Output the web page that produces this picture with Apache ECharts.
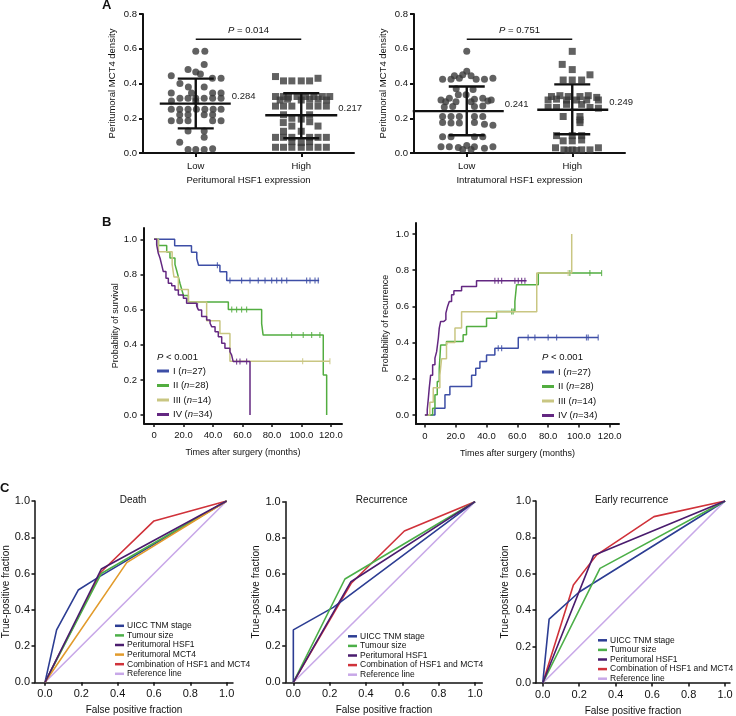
<!DOCTYPE html>
<html><head><meta charset="utf-8">
<script src="https://cdn.jsdelivr.net/npm/echarts@6/dist/echarts.min.js"></script>
<style>html,body{margin:0;padding:0;background:#fff}#c{width:736px;height:716px}</style>
</head><body><div id="c"></div>
<script>
// ---------------- DATA ----------------
// Panel A : categories and dots [jitter position (1=Low, 2=High), density]
const groupLabels = ['Low', 'High'];
const aYTicks = [0, 0.2, 0.4, 0.6, 0.8];
const aLowPeri = [[1.0,0.585],[1.086,0.585],[1.08,0.51],[0.927,0.48],[1.0,0.466],[1.044,0.455],[0.768,0.445],[1.158,0.43],[1.24,0.43],[0.85,0.40],[0.93,0.38],[1.08,0.38],[0.768,0.345],[0.96,0.345],[1.16,0.345],[1.24,0.345],[0.85,0.315],[0.927,0.315],[1.0,0.315],[1.08,0.315],[1.16,0.315],[1.24,0.315],[0.77,0.30],[1.0,0.30],[0.768,0.252],[0.848,0.252],[0.927,0.252],[1.006,0.252],[1.086,0.252],[1.165,0.252],[1.24,0.252],[0.848,0.22],[0.927,0.22],[1.08,0.22],[1.16,0.22],[0.768,0.186],[0.848,0.186],[0.927,0.186],[1.16,0.186],[1.24,0.186],[0.927,0.126],[1.08,0.126],[1.08,0.09],[0.848,0.062],[0.927,0.02],[1.0,0.02],[1.08,0.02],[1.16,0.025]];
const aHighPeri = [[1.756,0.44],[2.159,0.43],[1.832,0.415],[1.911,0.415],[2.0,0.415],[2.079,0.415],[1.756,0.325],[1.83,0.325],[1.88,0.322],[1.96,0.325],[2.04,0.325],[2.12,0.325],[2.2,0.325],[2.27,0.325],[1.80,0.305],[1.87,0.31],[2.0,0.305],[2.08,0.31],[2.16,0.31],[2.24,0.305],[1.756,0.27],[1.832,0.27],[1.911,0.27],[2.079,0.27],[2.159,0.27],[2.238,0.27],[1.832,0.22],[2.079,0.22],[1.911,0.2],[2.0,0.195],[1.83,0.175],[2.08,0.18],[1.911,0.155],[2.159,0.155],[1.832,0.125],[2.0,0.125],[1.756,0.09],[1.832,0.09],[1.911,0.09],[2.079,0.09],[2.159,0.09],[2.238,0.09],[1.911,0.065],[2.0,0.06],[2.079,0.065],[1.756,0.033],[1.832,0.033],[1.911,0.033],[2.0,0.033],[2.079,0.033],[2.159,0.033],[2.238,0.033]];
const aLowIntra = [[1.0,0.585],[1.0,0.47],[0.883,0.445],[0.962,0.45],[1.041,0.445],[0.771,0.425],[0.851,0.425],[0.93,0.43],[1.089,0.425],[1.168,0.425],[1.248,0.43],[0.90,0.37],[1.06,0.365],[0.92,0.335],[0.994,0.335],[0.756,0.305],[0.835,0.315],[1.073,0.31],[1.152,0.315],[1.232,0.305],[0.80,0.295],[0.898,0.295],[1.041,0.295],[1.2,0.30],[0.787,0.265],[0.867,0.267],[1.073,0.267],[1.152,0.27],[0.771,0.21],[0.851,0.21],[0.93,0.21],[1.073,0.21],[1.152,0.21],[0.771,0.175],[0.851,0.172],[0.93,0.172],[1.073,0.175],[1.168,0.165],[1.248,0.16],[0.771,0.094],[0.851,0.094],[1.073,0.094],[1.152,0.094],[0.756,0.036],[0.835,0.036],[0.92,0.032],[1.0,0.043],[1.073,0.036],[1.168,0.027],[1.248,0.036],[0.962,0.02],[1.041,0.02]];
const aHighIntra = [[2.0,0.585],[1.905,0.51],[2.0,0.48],[2.168,0.45],[1.914,0.42],[2.0,0.42],[2.089,0.42],[1.803,0.325],[1.883,0.33],[1.962,0.325],[2.073,0.325],[2.152,0.33],[2.232,0.32],[1.771,0.305],[1.851,0.31],[1.946,0.305],[2.041,0.305],[2.137,0.305],[2.248,0.305],[1.946,0.28],[2.089,0.28],[1.771,0.262],[1.851,0.262],[2.168,0.262],[2.248,0.258],[1.914,0.21],[2.073,0.21],[2.073,0.19],[2.073,0.175],[1.851,0.10],[2.0,0.10],[2.089,0.10],[1.914,0.07],[2.0,0.07],[2.089,0.075],[1.841,0.03],[1.921,0.018],[2.0,0.018],[2.089,0.018],[2.168,0.018],[2.248,0.03],[1.96,0.015],[2.04,0.015]];
// [group, mean, mean-SD, mean+SD]
const aStatsPeri = [[1,0.284,0.142,0.428],[2,0.217,0.085,0.344]];
const aStatsIntra = [[1,0.241,0.102,0.383],[2,0.249,0.108,0.395]];
const aPValues = ['0.014', '0.751'];
const aBracketLevel = 0.655;

// Panel B : Kaplan–Meier steps [months, probability]
const stageNames = ['I', 'II', 'III', 'IV'];
const stageCounts = [27, 28, 14, 34];
const bXTicks = [0, 20, 40, 60, 80, 100, 120];
const bYTicks = [0, 0.2, 0.4, 0.6, 0.8, 1.0];
const survI = [[0,1],[14,0.963],[25.4,0.926],[29,0.889],[30.2,0.852],[44.7,0.815],[49.3,0.765],[112,0.765]];
const survII = [[0,1],[3,0.964],[8.6,0.928],[10.8,0.893],[14.2,0.857],[15.4,0.821],[16.5,0.786],[17.6,0.75],[18.8,0.714],[20,0.68],[23.3,0.643],[50.4,0.60],[73,0.52],[74,0.455],[114.8,0.228],[117.1,0]];
const survIII = [[0,1],[3,0.929],[12.3,0.857],[13.5,0.786],[16.5,0.714],[23.3,0.643],[35.7,0.536],[44.7,0.464],[51.5,0.306],[119.3,0.306]];
const survIV = [[0,1],[1.8,0.968],[2.9,0.92],[4.1,0.892],[5.2,0.854],[6.3,0.816],[8.1,0.778],[9.7,0.75],[12,0.735],[14.2,0.712],[16.5,0.683],[19.9,0.664],[22.1,0.636],[28.9,0.62],[30.1,0.598],[32.3,0.56],[35.7,0.541],[38,0.522],[39.1,0.503],[41.4,0.474],[43.6,0.446],[45.9,0.408],[48.1,0.38],[51.5,0.36],[52.6,0.342],[53.7,0.304],[65.1,0]];
const survCensI = [43, 51.5, 59.4, 65.1, 70.7, 75.3, 79.8, 83.2, 86.6, 90, 103.5, 105.8, 109.2, 111.4];
const survCensII = [52.7, 56, 59.4, 62.8, 93.3, 101.2, 106.9, 112.5];
const survCensIII = [100.8, 119.3];
const survCensIV = [29.5, 56, 58.3, 62.8];
const recI = [[0,0],[6.5,0.037],[13,0.111],[16.2,0.157],[30.3,0.22],[33,0.258],[35.7,0.295],[40,0.332],[45.4,0.369],[60.6,0.428],[112.5,0.428]];
const recII = [[0,0],[5,0.037],[6.5,0.111],[8,0.185],[9.3,0.258],[10.2,0.387],[14,0.406],[24.8,0.443],[27,0.489],[40,0.535],[46.5,0.572],[58.4,0.627],[59.5,0.72],[73.6,0.784],[114.7,0.784]];
const recIII = [[0,0],[3.2,0.07],[5.4,0.15],[9.7,0.22],[10.8,0.31],[14,0.40],[19.5,0.48],[23.8,0.57],[72.6,0.784],[95.3,1.0]];
const recIV = [[0,0],[1.5,0.03],[2.2,0.09],[2.8,0.148],[3.7,0.22],[5,0.277],[6.5,0.314],[7.6,0.35],[8.7,0.424],[9.3,0.48],[10.2,0.517],[12.3,0.526],[13.6,0.563],[14.7,0.6],[15.8,0.627],[17.3,0.664],[18.8,0.686],[23.8,0.71],[33.5,0.742],[66,0.742]];
const recCensI = [47.6, 49.8, 67, 71.4, 80, 85.5, 104.9, 106, 112.5];
const recCensII = [56.3, 57.3, 94.1, 107.1, 114.7];
const recCensIII = [93];
const recCensIV = [45.4, 47.6, 49.8, 58.4, 60.6, 62.8, 64.9];

// Panel C : ROC curves [false positive fraction, true positive fraction]
const cTicks = [0, 0.2, 0.4, 0.6, 0.8, 1.0];
const rocNames = ['UICC TNM stage', 'Tumour size', 'Peritumoral HSF1', 'Peritumoral MCT4', 'Combination of HSF1 and MCT4', 'Reference line'];
const deathUICC = [[0,0],[0.064,0.289],[0.183,0.509],[0.30,0.583],[1,1]];
const deathSize = [[0,0],[0.31,0.60],[1,1]];
const deathHSF1 = [[0,0],[0.31,0.625],[1,1]];
const deathMCT4 = [[0,0],[0.45,0.66],[1,1]];
const deathComb = [[0,0],[0.31,0.61],[0.60,0.89],[1,1]];
const recurUICC = [[0,0],[0,0.29],[0.22,0.415],[1,1]];
const recurSize = [[0,0],[0.284,0.572],[1,1]];
const recurHSF1 = [[0,0],[0.317,0.557],[1,1]];
const recurComb = [[0,0],[0.32,0.55],[0.611,0.838],[1,1]];
const earlyUICC = [[0,0],[0.035,0.351],[0.2,0.50],[1,1]];
const earlySize = [[0,0],[0.314,0.63],[1,1]];
const earlyHSF1 = [[0,0],[0.278,0.70],[1,1]];
const earlyComb = [[0,0],[0.168,0.539],[0.296,0.704],[0.61,0.914],[1,1]];
const refLine = [[0,0],[1,1]];

// ---------------- STYLE ----------------
const FONT = '"Liberation Sans", Arial, Helvetica, sans-serif';
const stageColors = ['#3d4ea6', '#52ad40', '#c9c682', '#632781'];
const rocColors = {'UICC TNM stage':'#2c3d93','Tumour size':'#4caf48','Peritumoral HSF1':'#4a1c6e','Peritumoral MCT4':'#e29b2c','Combination of HSF1 and MCT4':'#d0323a','Reference line':'#c8a8e8'};
const dotColor = '#3a3a3a';

const chart = echarts.init(document.getElementById('c'), null, {renderer: 'canvas'});

function mkGrid(l, t, w, h) { return {left: l, top: t, width: w, height: h, containLabel: false, outerBoundsMode: 'none'}; }
const grids = [
  mkGrid(143, 14, 211, 139),   // A left
  mkGrid(414, 14, 211, 139),   // A right
  mkGrid(144, 228, 198, 195.5),// B left
  mkGrid(416, 223, 203, 201),  // B right
  mkGrid(35, 501, 198, 181.3), // C left
  mkGrid(285.7, 501.7, 196.6, 180.6), // C mid
  mkGrid(536, 501, 194, 182)   // C right
];

const txt = (size, extra) => Object.assign({fontFamily: FONT, fontSize: size, color: '#111'}, extra || {});

function aX(gi, name) {
  return {type: 'value', gridIndex: gi, min: 0.5, max: 2.5, name: name, nameLocation: 'middle', nameGap: 22,
    nameTextStyle: txt(9.5),
    axisLine: {show: true, lineStyle: {color: '#111', width: 2}},
    axisTick: {show: true, length: 4, lineStyle: {width: 2, color: '#111'}, customValues: [1, 2]},
    axisLabel: Object.assign(txt(9.5), {margin: 8, customValues: [1, 2], formatter: v => groupLabels[Math.round(v) - 1]}),
    splitLine: {show: false}};
}
function aY(gi) {
  return {type: 'value', gridIndex: gi, min: 0, max: 0.8, interval: 0.2, name: 'Peritumoral MCT4 density', nameLocation: 'middle', nameGap: 26,
    nameTextStyle: txt(9.5),
    axisLine: {show: true, lineStyle: {color: '#111', width: 2}},
    axisTick: {show: true, length: 4, lineStyle: {width: 2, color: '#111'}},
    axisLabel: Object.assign(txt(9.5), {margin: 6, formatter: v => v.toFixed(1)}),
    splitLine: {show: false}};
}
function bX(gi, min, max) {
  return {type: 'value', gridIndex: gi, min: min, max: max, name: 'Times after surgery (months)', nameLocation: 'middle', nameGap: 25,
    nameTextStyle: txt(9),
    axisLine: {show: true, onZero: false, lineStyle: {color: '#111', width: 2}},
    axisTick: {show: true, length: 3.5, lineStyle: {width: 1.5, color: '#111'}, customValues: bXTicks},
    axisLabel: Object.assign(txt(9.5), {margin: 7, customValues: bXTicks, formatter: v => v === 0 ? '0' : v.toFixed(1)}),
    splitLine: {show: false}};
}
function bY(gi, min, max, name, gap) {
  return {type: 'value', gridIndex: gi, min: min, max: max, name: name, nameLocation: 'middle', nameGap: gap,
    nameTextStyle: txt(9),
    axisLine: {show: true, onZero: false, lineStyle: {color: '#111', width: 2}},
    axisTick: {show: true, length: 3.5, lineStyle: {width: 1.5, color: '#111'}, customValues: bYTicks},
    axisLabel: Object.assign(txt(9.5), {margin: 7, customValues: bYTicks, formatter: v => v.toFixed(1)}),
    splitLine: {show: false}};
}
function cX(gi, min, max) {
  return {type: 'value', gridIndex: gi, min: min, max: max, name: 'False positive fraction', nameLocation: 'middle', nameGap: 23,
    nameTextStyle: txt(10),
    axisLine: {show: true, onZero: false, lineStyle: {color: '#111', width: 1.5}},
    axisTick: {show: true, length: 3.5, lineStyle: {width: 1.5, color: '#111'}, customValues: cTicks},
    axisLabel: Object.assign(txt(11), {margin: 6, customValues: cTicks, formatter: v => v.toFixed(1)}),
    splitLine: {show: false}};
}
function cY(gi, gap) {
  return {type: 'value', gridIndex: gi, min: 0, max: 1, interval: 0.2, name: 'True-positive fraction', nameLocation: 'middle', nameGap: gap,
    nameTextStyle: txt(10),
    axisLine: {show: true, onZero: false, lineStyle: {color: '#111', width: 1.5}},
    axisTick: {show: true, length: 3.5, lineStyle: {width: 1.5, color: '#111'}},
    axisLabel: Object.assign(txt(11), {margin: 5, formatter: v => v.toFixed(1)}),
    splitLine: {show: false}};
}

const xAxes = [aX(0, 'Peritumoral HSF1 expression'), aX(1, 'Intratumoral HSF1 expression'),
  bX(2, -6.8, 127.5), bX(3, -5.8, 126), cX(4, -0.055, 1.035), cX(5, -0.042, 1.04), cX(6, -0.037, 1.027)];
const yAxes = [aY(0), aY(1), bY(2, -0.048, 1.064, 'Probability of survival', 24), bY(3, -0.05, 1.061, 'Probability of recurrence', 26),
  cY(4, 22), cY(5, 22), cY(6, 26)];

const series = [];
// ---- Panel A
function dots(gi, data, symbol) {
  series.push({type: 'scatter', xAxisIndex: gi, yAxisIndex: gi, data: data, symbol: symbol, symbolSize: 7,
    itemStyle: {color: dotColor}, silent: true, z: 2});
}
function errBars(gi, stats, halfL, halfR) {
  series.push({type: 'custom', xAxisIndex: gi, yAxisIndex: gi, data: stats, clip: false, silent: true, z: 5,
    renderItem: function (params, api) {
      const x = api.value(0), m = api.value(1), lo = api.value(2), hi = api.value(3);
      const pm = api.coord([x, m]), plo = api.coord([x, lo]), phi = api.coord([x, hi]);
      const i = params.dataIndex, cap = 18, st = {stroke: '#111', lineWidth: 2.4};
      return {type: 'group', children: [
        {type: 'line', shape: {x1: pm[0] - halfL[i], y1: pm[1], x2: pm[0] + halfR[i], y2: pm[1]}, style: st},
        {type: 'line', shape: {x1: phi[0], y1: phi[1], x2: plo[0], y2: plo[1]}, style: st},
        {type: 'line', shape: {x1: phi[0] - cap, y1: phi[1], x2: phi[0] + cap, y2: phi[1]}, style: st},
        {type: 'line', shape: {x1: plo[0] - cap, y1: plo[1], x2: plo[0] + cap, y2: plo[1]}, style: st},
        {type: 'text', x: pm[0] + halfR[i] + 1, y: pm[1] - 7, style: {text: m.toFixed(3), fontFamily: FONT, fontSize: 9.5, fill: '#222', verticalAlign: 'middle', align: 'left'}}
      ]};
    }});
}
function bracket(gi, p) {
  series.push({type: 'custom', xAxisIndex: gi, yAxisIndex: gi, data: [[1, 2, aBracketLevel]], clip: false, silent: true,
    renderItem: function (params, api) {
      const a = api.coord([api.value(0), api.value(2)]), b = api.coord([api.value(1), api.value(2)]);
      return {type: 'group', children: [
        {type: 'line', shape: {x1: a[0], y1: a[1], x2: b[0], y2: b[1]}, style: {stroke: '#111', lineWidth: 1.6}},
        {type: 'text', x: (a[0] + b[0]) / 2, y: a[1] - 9, style: {text: '{i|P} = ' + p, fontFamily: FONT, fontSize: 9.5, fill: '#111', align: 'center', verticalAlign: 'middle',
          rich: {i: {fontStyle: 'italic', fontFamily: FONT, fontSize: 9.5, fill: '#111'}}}}
      ]};
    }});
}
dots(0, aLowPeri, 'circle'); dots(0, aHighPeri, 'rect');
errBars(0, aStatsPeri, [36, 36], [35, 36]);
bracket(0, aPValues[0]);
dots(1, aLowIntra, 'circle'); dots(1, aHighIntra, 'rect');
errBars(1, aStatsIntra, [54, 35], [37, 36]);
bracket(1, aPValues[1]);

// ---- Panel B
function stepAt(curve, t) { let v = curve[0][1]; for (const p of curve) { if (p[0] <= t) v = p[1]; } return v; }
function kmPanel(gi, curves, cens) {
  curves.forEach((c, k) => {
    series.push({type: 'line', name: stageNames[k], xAxisIndex: gi, yAxisIndex: gi, data: c, step: 'end', showSymbol: false,
      color: stageColors[k], lineStyle: {width: 1.5, color: stageColors[k]}, silent: true, z: 3 + k});
    series.push({type: 'scatter', name: 'cens' + k, xAxisIndex: gi, yAxisIndex: gi,
      data: cens[k].map(t => [t, stepAt(c, t)]), symbol: 'rect', symbolSize: [1.2, 6],
      itemStyle: {color: stageColors[k]}, silent: true, z: 3 + k});
  });
}
kmPanel(2, [survI, survII, survIII, survIV], [survCensI, survCensII, survCensIII, survCensIV]);
kmPanel(3, [recI, recII, recIII, recIV], [recCensI, recCensII, recCensIII, recCensIV]);

// ---- Panel C
function rocPanel(gi, sets) {
  sets.forEach(([name, data]) => {
    series.push({type: 'line', name: name, xAxisIndex: gi, yAxisIndex: gi, data: data, showSymbol: false,
      color: rocColors[name], lineStyle: {width: 1.6, color: rocColors[name]}, silent: true,
      z: name === 'Reference line' ? 1 : (name === 'Combination of HSF1 and MCT4' ? 2 : 3)});
  });
}
rocPanel(4, [['Reference line', refLine], ['UICC TNM stage', deathUICC], ['Tumour size', deathSize], ['Peritumoral MCT4', deathMCT4], ['Peritumoral HSF1', deathHSF1], ['Combination of HSF1 and MCT4', deathComb]]);
rocPanel(5, [['Reference line', refLine], ['UICC TNM stage', recurUICC], ['Tumour size', recurSize], ['Peritumoral HSF1', recurHSF1], ['Combination of HSF1 and MCT4', recurComb]]);
rocPanel(6, [['Reference line', refLine], ['UICC TNM stage', earlyUICC], ['Tumour size', earlySize], ['Peritumoral HSF1', earlyHSF1], ['Combination of HSF1 and MCT4', earlyComb]]);

// ---- Legends
const stageLegend = (left, top) => ({data: stageNames, left: left, top: top, orient: 'vertical', icon: 'rect', itemWidth: 12, itemHeight: 3,
  itemGap: 2.5, selectedMode: false,
  formatter: n => n + ' ({i|n}=' + stageCounts[stageNames.indexOf(n)] + ')',
  textStyle: {fontFamily: FONT, fontSize: 9.5, color: '#111', lineHeight: 12, padding: [0, 0, 0, -1],
    rich: {i: {fontStyle: 'italic', fontFamily: FONT, fontSize: 9.5, color: '#111', lineHeight: 12}}}});
const rocLegend = (left, top, names) => ({data: names, left: left, top: top, orient: 'vertical', icon: 'rect', itemWidth: 9, itemHeight: 2.5,
  itemGap: 0, selectedMode: false,
  textStyle: {fontFamily: FONT, fontSize: 8.5, color: '#111', lineHeight: 9.6, padding: [0, 0, 0, -2]}});
const legends = [
  stageLegend(152, 360), stageLegend(537, 361),
  rocLegend(110, 616, rocNames),
  rocLegend(343, 626.5, rocNames.filter(n => n !== 'Peritumoral MCT4')),
  rocLegend(593, 630.5, rocNames.filter(n => n !== 'Peritumoral MCT4'))
];

// ---- Panel letters and inline annotations
const gText = (x, y, text, size, extra) => ({type: 'text', x: x, y: y, silent: true,
  style: Object.assign({text: text, fontFamily: FONT, fontSize: size, fill: '#111'}, extra || {})});
const pRich = {i: {fontStyle: 'italic', fontFamily: FONT, fontSize: 9.5, fill: '#111'}};
const graphics = [
  gText(102, -1, 'A', 13, {fontWeight: 'bold'}),
  gText(102, 216, 'B', 13, {fontWeight: 'bold'}),
  gText(0, 482, 'C', 13, {fontWeight: 'bold'}),
  gText(157, 352, '{i|P} < 0.001', 9.5, {rich: pRich}),
  gText(542, 352, '{i|P} < 0.001', 9.5, {rich: pRich}),
  gText(133, 500, 'Death', 10, {align: 'center', verticalAlign: 'middle'}),
  gText(381.7, 500, 'Recurrence', 10, {align: 'center', verticalAlign: 'middle'}),
  gText(631.7, 500, 'Early recurrence', 10, {align: 'center', verticalAlign: 'middle'})
];

chart.setOption({
  animation: false,
  backgroundColor: '#ffffff',
  textStyle: {fontFamily: FONT},
  grid: grids, xAxis: xAxes, yAxis: yAxes, series: series, legend: legends, graphic: graphics
});
</script></body></html>
